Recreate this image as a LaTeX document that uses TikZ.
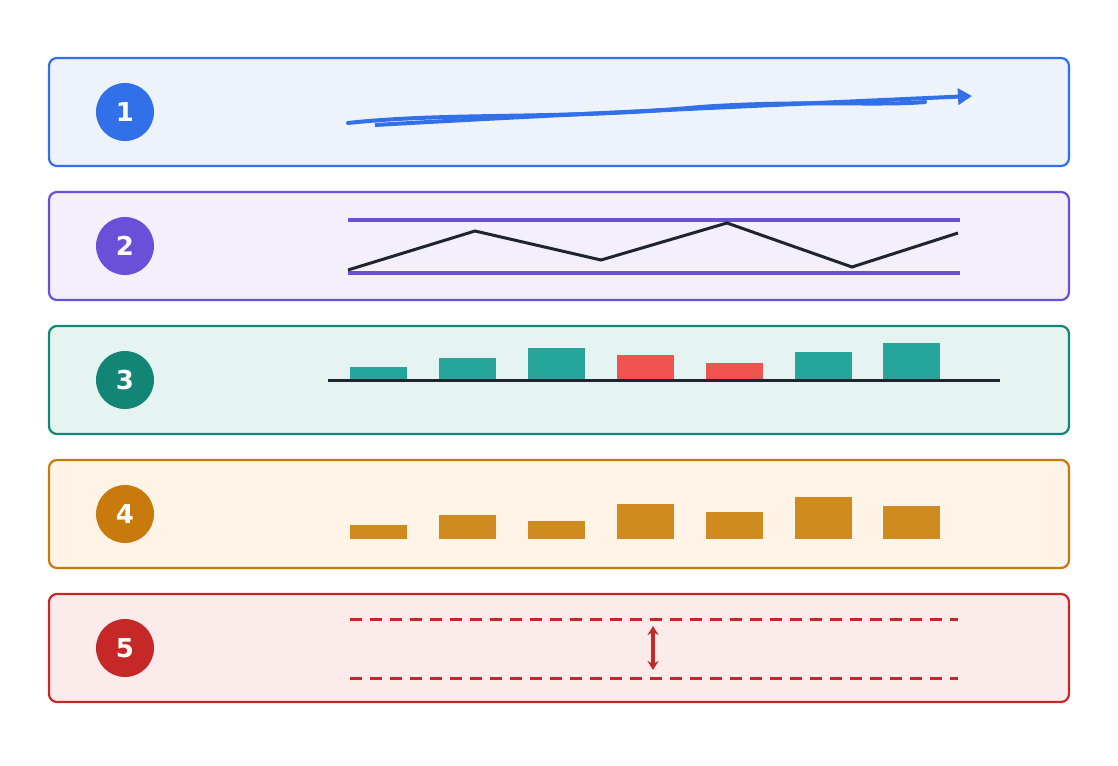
\documentclass[tikz,border=0pt]{standalone}
\usepackage{fontspec}
\setsansfont{DejaVu Sans}
\usetikzlibrary{arrows.meta}
\definecolor{cblue}{HTML}{3170E8}\definecolor{fblue}{HTML}{EEF2FB}
\definecolor{cpurple}{HTML}{6A4FD8}\definecolor{fpurple}{HTML}{F3F0FC}
\definecolor{cteal}{HTML}{138577}\definecolor{fteal}{HTML}{E6F4F1}
\definecolor{bteal}{HTML}{26A69A}\definecolor{bred}{HTML}{EF5350}
\definecolor{corange}{HTML}{C97A0C}\definecolor{forange}{HTML}{FFF4E6}
\definecolor{borange}{HTML}{CF8A20}
\definecolor{cred}{HTML}{C62828}\definecolor{fred}{HTML}{FCEBEB}
\definecolor{cdark}{HTML}{1F2430}
\tikzset{
  panel/.style={draw=#1, line width=2.2pt, rounded corners=8pt},
  badge/.style={circle, fill=#1, minimum size=58pt, inner sep=0pt, text=white,
    font=\sffamily\bfseries\fontsize{26}{26}\selectfont},
}
\begin{document}
\begin{tikzpicture}[x=1pt, y=-1pt]
\useasboundingbox (0,0) rectangle (1118,765);

% panels and badges
\foreach \k/\c/\f in {0/cblue/fblue, 1/cpurple/fpurple, 2/cteal/fteal, 3/corange/forange, 4/cred/fred} {
  \draw [panel=\c, fill=\f] (49,58+134*\k) rectangle (1069,166+134*\k);
  \pgfmathtruncatemacro{\n}{\k+1}
  \node [badge=\c] (b\n) at (125,112+134*\k) {\n};
}

% 1: sketchy arrow
\draw [cblue, line width=4pt, line cap=round] (348,123) .. controls (450,112) and (560,120) .. (700,107) .. controls (800,100) and (880,106) .. (925,102);
\draw [cblue, line width=4pt, -{Triangle[length=14pt,width=16pt]}] (375,125) .. controls (550,115) and (750,106) .. (972,96);

% 2: band and zigzag
\draw [cpurple, line width=4pt] (348,220) -- (960,220);
\draw [cpurple, line width=4pt] (348,273) -- (960,273);
\draw [cdark, line width=3pt] (348,270) -- (475,231) -- (601,260) -- (727,223) -- (852,267) -- (958,233);

% 3: bars around baseline
\foreach \x/\t/\c in {350/367/bteal, 439/358/bteal, 528/348/bteal, 617/355/bred, 706/363/bred, 795/352/bteal, 883/343/bteal}
  \fill [\c] (\x,\t) rectangle (\x+57,380);
\draw [cdark, line width=3pt] (328,380) -- (1000,380);

% 4: bars
\foreach \x/\t in {350/525, 439/515, 528/521, 617/504, 706/512, 795/497, 883/506}
  \fill [borange] (\x,\t) rectangle (\x+57,539);

% 5: dashed limits and gap
\draw [cred, line width=3pt, dash pattern=on 12pt off 8pt] (350,619) -- (958,619);
\draw [cred, line width=3pt, dash pattern=on 12pt off 8pt] (350,678) -- (958,678);
\coordinate (gtop) at (653,626);
\coordinate (gbot) at (653,670);
\draw [cred, line width=3.5pt, {Stealth[length=9pt,width=11pt]}-{Stealth[length=9pt,width=11pt]}] (gtop) -- (gbot);
\end{tikzpicture}
\end{document}
